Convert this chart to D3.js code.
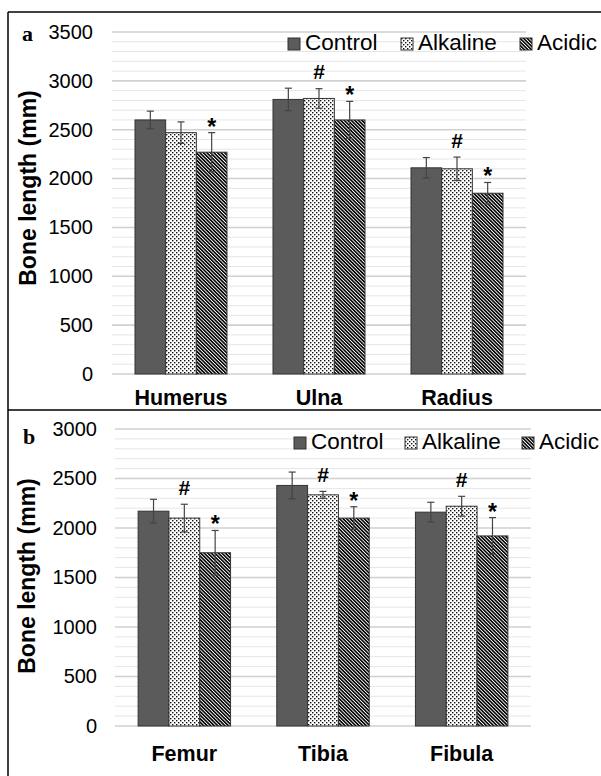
<!DOCTYPE html>
<html><head><meta charset="utf-8">
<script src="https://cdn.jsdelivr.net/npm/d3@7"></script>
<style>
html,body{margin:0;padding:0;background:#fff;}
svg{display:block;font-family:"Liberation Sans",Arial,sans-serif;}
</style></head>
<body>
<svg id="chart" width="601" height="776"></svg>
<script>
// ---------- data ----------
const seriesNames = ["Control", "Alkaline", "Acidic"];

const categoriesA = ["Humerus", "Ulna", "Radius"];
const controlA = [2600, 2810, 2110];
const alkalineA = [2470, 2820, 2100];
const acidicA = [2270, 2600, 1850];
const controlErrA = [90, 115, 105];
const alkalineErrA = [110, 100, 120];
const acidicErrA = [200, 190, 110];
const alkalineMarkA = ["", "#", "#"];
const acidicMarkA = ["*", "*", "*"];
const ticksA = [0, 500, 1000, 1500, 2000, 2500, 3000, 3500];

const categoriesB = ["Femur", "Tibia", "Fibula"];
const controlB = [2170, 2430, 2160];
const alkalineB = [2100, 2335, 2220];
const acidicB = [1750, 2100, 1920];
const controlErrB = [120, 135, 100];
const alkalineErrB = [140, 35, 100];
const acidicErrB = [225, 115, 185];
const alkalineMarkB = ["#", "#", "#"];
const acidicMarkB = ["*", "*", "*"];
const ticksB = [0, 500, 1000, 1500, 2000, 2500, 3000];

const yTitle = "Bone length (mm)";

// ---------- drawing ----------
const svg = d3.select("#chart");
const defs = svg.append("defs");

const dots = defs.append("pattern").attr("id", "pDots")
  .attr("patternUnits", "userSpaceOnUse").attr("width", 4).attr("height", 4);
dots.append("rect").attr("width", 4).attr("height", 4).attr("fill", "#fff");
dots.append("rect").attr("x", 0).attr("y", 0).attr("width", 1.4).attr("height", 1.4).attr("fill", "#111");
dots.append("rect").attr("x", 2).attr("y", 2).attr("width", 1.4).attr("height", 1.4).attr("fill", "#111");

const hatch = defs.append("pattern").attr("id", "pHatch")
  .attr("patternUnits", "userSpaceOnUse").attr("width", 2.5).attr("height", 10)
  .attr("patternTransform", "rotate(-45)");
hatch.append("rect").attr("width", 2.5).attr("height", 10).attr("fill", "#fff");
hatch.append("rect").attr("width", 1.6).attr("height", 10).attr("fill", "#000");

const fills = {Control: "#5b5b5b", Alkaline: "url(#pDots)", Acidic: "url(#pHatch)"};

// frame lines
svg.append("line").attr("x1", 8).attr("x2", 601).attr("y1", 12).attr("y2", 12).attr("stroke", "#000").attr("stroke-width", 1.5);
svg.append("line").attr("x1", 8).attr("x2", 8).attr("y1", 12).attr("y2", 776).attr("stroke", "#000").attr("stroke-width", 1.5);
svg.append("line").attr("x1", 8).attr("x2", 601).attr("y1", 410).attr("y2", 410).attr("stroke", "#000").attr("stroke-width", 1.5);

function panel(cfg) {
  const g = svg.append("g");
  const y = d3.scaleLinear().domain([0, cfg.max]).range([cfg.y0, cfg.y1]);
  const x0 = d3.scaleBand().domain(cfg.categories).range([cfg.xl, cfg.xr]).padding(0);
  const bw = x0.bandwidth();
  const x1 = d3.scaleBand().domain(seriesNames).range([bw * 0.75 / 4.5, bw * 3.75 / 4.5]).padding(0);

  // minor gridlines
  g.selectAll(".minor").data(d3.range(100, cfg.max + 1, 100).filter(v => v % 500 !== 0))
    .join("line").attr("x1", cfg.xl).attr("x2", cfg.xr)
    .attr("y1", d => y(d)).attr("y2", d => y(d))
    .attr("stroke", "#e6e6e6").attr("stroke-width", 1);
  // major gridlines
  g.selectAll(".major").data(cfg.ticks)
    .join("line").attr("x1", cfg.xl).attr("x2", cfg.xr)
    .attr("y1", d => y(d)).attr("y2", d => y(d))
    .attr("stroke", "#d0d0d0").attr("stroke-width", 1.6);

  // y tick labels
  const ax = g.append("g").attr("transform", `translate(${cfg.tickX},0)`)
    .call(d3.axisLeft(y).tickValues(cfg.ticks).tickSize(0).tickPadding(0).tickFormat(d3.format("d")));
  ax.select(".domain").remove();
  ax.selectAll("text").attr("font-size", 20).attr("fill", "#000")
    .attr("font-family", "'Liberation Sans', Arial, sans-serif");

  // bars
  const rows = [];
  cfg.categories.forEach((c, i) => {
    seriesNames.forEach((s, j) => {
      rows.push({c, s, v: cfg.values[j][i], e: cfg.errs[j][i], m: cfg.marks[j][i]});
    });
  });
  g.selectAll(".bar").data(rows).join("rect")
    .attr("x", d => x0(d.c) + x1(d.s))
    .attr("width", x1.bandwidth())
    .attr("y", d => y(d.v))
    .attr("height", d => y(0) - y(d.v))
    .attr("fill", d => fills[d.s])
    .attr("stroke", "#333").attr("stroke-width", 1);

  // error bars
  const cx = d => x0(d.c) + x1(d.s) + x1.bandwidth() / 2;
  const eb = g.selectAll(".err").data(rows).join("g");
  eb.append("line").attr("x1", cx).attr("x2", cx)
    .attr("y1", d => y(d.v + d.e)).attr("y2", d => y(d.v - d.e))
    .attr("stroke", "#444").attr("stroke-width", 1.2);
  eb.append("line").attr("x1", d => cx(d) - 3.5).attr("x2", d => cx(d) + 3.5)
    .attr("y1", d => y(d.v + d.e)).attr("y2", d => y(d.v + d.e))
    .attr("stroke", "#444").attr("stroke-width", 1.2);
  eb.append("line").attr("x1", d => cx(d) - 3.5).attr("x2", d => cx(d) + 3.5)
    .attr("y1", d => y(d.v - d.e)).attr("y2", d => y(d.v - d.e))
    .attr("stroke", "#444").attr("stroke-width", 1.2);

  // significance marks
  g.selectAll(".mark").data(rows.filter(d => d.m)).join("text")
    .attr("x", cx)
    .attr("y", d => d.m === "#" ? y(d.v + d.e) - 9.5 : y(d.v + d.e) + 2)
    .attr("text-anchor", "middle")
    .attr("font-weight", "bold")
    .attr("font-size", d => d.m === "#" ? 21 : 23)
    .attr("fill", "#000")
    .text(d => d.m);

  // x category labels
  g.selectAll(".cat").data(cfg.categories).join("text")
    .attr("x", d => x0(d) + bw / 2).attr("y", cfg.catY)
    .attr("text-anchor", "middle").attr("font-weight", "bold").attr("font-size", 21.5)
    .attr("fill", "#000").text(d => d);

  // y title
  g.append("text").attr("transform", `translate(${cfg.titleX},${cfg.titleY}) rotate(-90)`)
    .attr("text-anchor", "middle").attr("dy", "0.35em")
    .attr("font-weight", "bold").attr("font-size", 23).attr("fill", "#000").text(yTitle);

  // panel letter
  g.append("text").attr("x", cfg.letterX).attr("y", cfg.letterY)
    .attr("font-family", "'Liberation Serif', 'Times New Roman', serif")
    .attr("font-weight", "bold").attr("font-size", 22).attr("fill", "#000").text(cfg.letter);

  // legend
  const lg = g.selectAll(".leg").data(seriesNames).join("g")
    .attr("transform", (d, i) => `translate(${cfg.legX[i]},${cfg.legY})`);
  lg.append("rect").attr("x", 0).attr("y", -12).attr("width", 12).attr("height", 12)
    .attr("fill", d => fills[d]).attr("stroke", "#333").attr("stroke-width", 1);
  lg.append("text").attr("x", 17).attr("y", 0).attr("font-size", 22.5).attr("fill", "#000").text(d => d);
}

panel({
  categories: categoriesA, values: [controlA, alkalineA, acidicA],
  errs: [controlErrA, alkalineErrA, acidicErrA], marks: [["", "", ""], alkalineMarkA, acidicMarkA],
  ticks: ticksA, max: 3500, y0: 374, y1: 32, xl: 112, xr: 526, tickX: 93,
  catY: 404.5, titleX: 28, titleY: 188, letter: "a", letterX: 22, letterY: 41,
  legX: [288, 401, 520], legY: 50
});

panel({
  categories: categoriesB, values: [controlB, alkalineB, acidicB],
  errs: [controlErrB, alkalineErrB, acidicErrB], marks: [["", "", ""], alkalineMarkB, acidicMarkB],
  ticks: ticksB, max: 3000, y0: 726, y1: 429, xl: 115, xr: 531, tickX: 97,
  catY: 760.5, titleX: 27, titleY: 576, letter: "b", letterX: 23, letterY: 444,
  legX: [294, 405, 522], legY: 449
});
</script>
</body></html>
